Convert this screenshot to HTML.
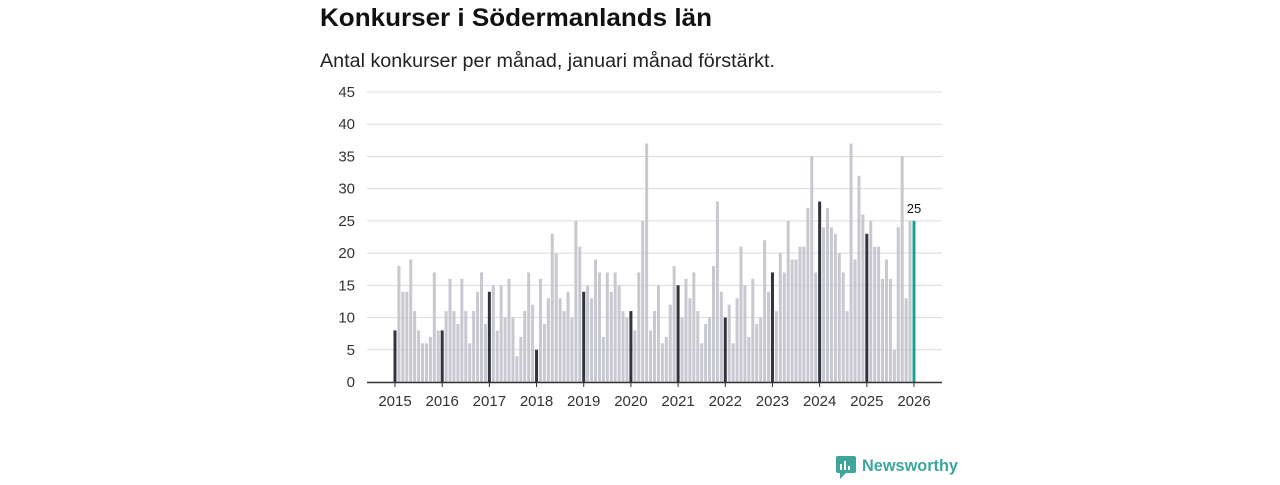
<!DOCTYPE html>
<html><head><meta charset="utf-8"><style>
body{margin:0;width:1280px;height:480px;background:#fff;font-family:"Liberation Sans",sans-serif;overflow:hidden}
</style></head><body>
<svg width="1280" height="480">
<text x="320" y="26" font-size="25" font-weight="bold" fill="#111" textLength="392" lengthAdjust="spacingAndGlyphs">Konkurser i Södermanlands län</text>
<text x="320" y="67" font-size="19" fill="#222" textLength="455" lengthAdjust="spacingAndGlyphs">Antal konkurser per månad, januari månad förstärkt.</text>
<g id="grid"></g><g id="bars"></g><g id="xaxis"></g>
<g>
<rect x="836" y="456" width="20" height="17" rx="2" fill="#3fa59b"/>
<path d="M840 473 L846 473 L840 479 Z" fill="#3fa59b"/>
<rect x="840" y="464" width="2" height="6" fill="#fff"/><rect x="844" y="461" width="2" height="9" fill="#fff"/><rect x="848" y="466" width="2" height="4" fill="#fff"/>
<text x="862" y="471" font-size="17" font-weight="bold" fill="#3fa59b" textLength="96" lengthAdjust="spacingAndGlyphs">Newsworthy</text>
</g>
</svg>
<script>
const years=[2015,2016,2017,2018,2019,2020,2021,2022,2023,2024,2025,2026];
const yTicks=[0,5,10,15,20,25,30,35,40,45];
const values=[8,18,14,14,19,11,8,6,6,7,17,8,
8,11,16,11,9,16,11,6,11,14,17,9,
14,15,8,15,10,16,10,4,7,11,17,12,
5,16,9,13,23,20,13,11,14,10,25,21,
14,15,13,19,17,7,17,14,17,15,11,10,
11,8,17,25,37,8,11,15,6,7,12,18,
15,10,16,13,17,11,6,9,10,18,28,14,
10,12,6,13,21,15,7,16,9,10,22,14,
17,11,20,17,25,19,19,21,21,27,35,17,
28,24,27,24,23,20,17,11,37,19,32,26,
23,25,21,21,16,19,16,5,24,35,13,25,
25];
const NS="http://www.w3.org/2000/svg";
const y=v=>382-v*(290/45);
const x=i=>395+i*(519/132);
function mk(t,a,p){const e=document.createElementNS(NS,t);for(const k in a)e.setAttribute(k,a[k]);p.appendChild(e);return e;}
const grid=document.getElementById('grid');
yTicks.forEach(t=>{
 if(t>0){const l=mk('line',{x1:367,x2:942,y1:y(t),y2:y(t),stroke:'#dcdcdc','stroke-width':1},grid);
 
 }
 const tx=mk('text',{x:355,y:y(t)+5,'font-size':15,fill:'#333','text-anchor':'end'},grid);tx.textContent=t;
 
 
});
const bars=document.getElementById('bars');
values.forEach((v,i)=>{
 const last=i===values.length-1;
 const col=last?'#1aa394':(i%12===0?'#333340':'#c8c8d0');
 const r=mk('rect',{x:x(i)-1.5,y:y(v),width:3,height:y(0)-y(v),fill:col},bars);
 
 
 if(last){const t=mk('text',{x:x(i),y:y(v)-8,'font-size':13,fill:'#111','text-anchor':'middle'},bars);t.textContent=v;
 
 }
});
const xa=document.getElementById('xaxis');
const ax=mk('line',{x1:367,x2:942,y1:382.5,y2:382.5,stroke:'#333','stroke-width':1.5},xa);


years.forEach((yr,k)=>{
 const px=x(k*12);
 mk('line',{x1:px,x2:px,y1:382,y2:387,stroke:'#333'},xa);
 const t=mk('text',{x:px,y:406,'font-size':15,fill:'#333','text-anchor':'middle'},xa);t.textContent=yr;
 
 
});
</script>
</body></html>
